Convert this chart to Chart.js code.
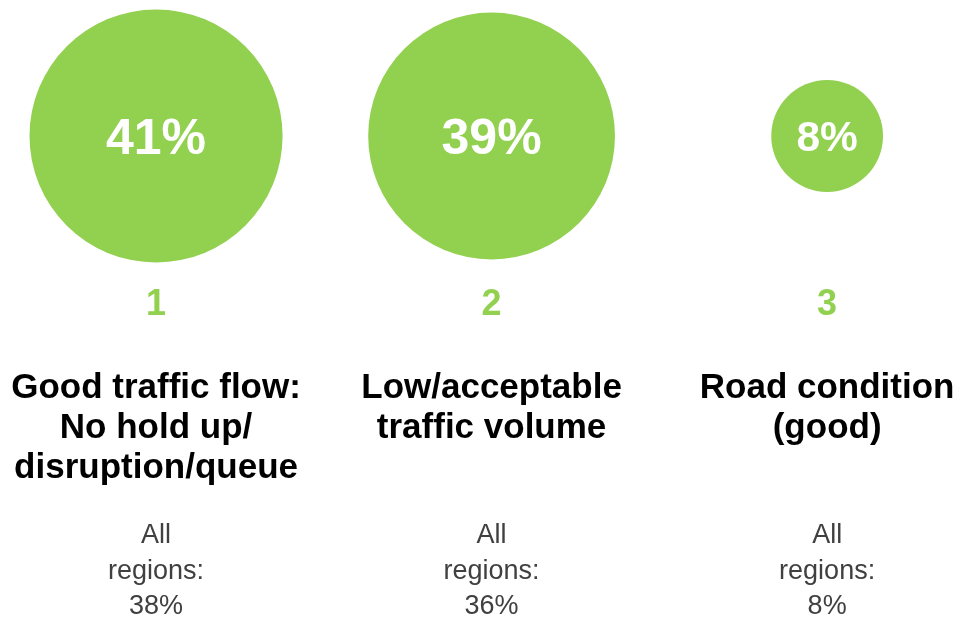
<!DOCTYPE html>
<html>
<head>
<meta charset="utf-8">
<script src="https://cdn.jsdelivr.net/npm/chart.js@4/dist/chart.umd.min.js"></script>
<style>
  html, body { margin: 0; padding: 0; background: #fff; }
  #wrap { width: 959px; height: 617px; position: relative; }
</style>
</head>
<body>
<div id="wrap"><canvas id="bubbles"></canvas></div>
<script>
"use strict";

// values
var ranks = ["1", "2", "3"];
var categories = [
    ["Good traffic flow:", "No hold up/", "disruption/queue"],
    ["Low/acceptable", "traffic volume"],
    ["Road condition", "(good)"]
];
var shares = [41, 39, 8];
var all_regions = [38, 36, 8];

var green = "#92D050";
var font_family = "'Liberation Sans', Arial, sans-serif";

// bubble area proportional to the share
function bubble_radius(v) {
    return 19.76 * Math.sqrt(v);
}

var points = shares.map(function(v, i) {
    return { x: i, y: 0, v: v };
});

var text_plugin = {
    id: "bubbleText",
    afterDatasetsDraw: function(chart) {
        var ctx = chart.ctx;
        var xs = chart.scales.x;
        var meta = chart.getDatasetMeta(0);
        ctx.save();
        ctx.textAlign = "center";
        ctx.textBaseline = "alphabetic";

        meta.data.forEach(function(el, i) {
            var cx = xs.getPixelForValue(i);
            var cy = el.y;
            var r = bubble_radius(shares[i]);

            // share inside the bubble
            var size = Math.min(50, r * 0.76);
            ctx.fillStyle = "#ffffff";
            ctx.font = "bold " + size + "px " + font_family;
            ctx.fillText(shares[i] + "%", cx, cy + size * 0.36);

            // rank
            ctx.fillStyle = green;
            ctx.font = "bold 36px " + font_family;
            ctx.fillText(ranks[i], cx, 315);

            // category label
            ctx.fillStyle = "#000000";
            ctx.font = "bold 35px " + font_family;
            categories[i].forEach(function(line, j) {
                ctx.fillText(line, cx, 398 + j * 40);
            });

            // all regions comparison
            ctx.fillStyle = "#404040";
            ctx.font = "27px " + font_family;
            var sub = ["All", "regions:", all_regions[i] + "%"];
            sub.forEach(function(line, j) {
                ctx.fillText(line, cx, 543 + j * 35.5);
            });
        });
        ctx.restore();
    }
};

var chart_context = document.getElementById("bubbles").getContext("2d");
var chart = new Chart(chart_context, {
    type: "bubble",
    data: {
        datasets: [{
            data: points,
            backgroundColor: green,
            borderWidth: 0,
            hoverBorderWidth: 0,
            hoverRadius: 0,
            clip: false,
            radius: function(c) {
                return bubble_radius(shares[c.dataIndex]);
            }
        }]
    },
    options: {
        responsive: true,
        maintainAspectRatio: false,
        animation: false,
        events: [],
        layout: { padding: 0, autoPadding: false },
        plugins: {
            legend: { display: false },
            tooltip: { enabled: false }
        },
        scales: {
            x: { type: "linear", min: -0.465, max: 2.393, display: false },
            y: { type: "linear", min: -3.537, max: 1, display: false }
        }
    },
    plugins: [text_plugin]
});
</script>
</body>
</html>
